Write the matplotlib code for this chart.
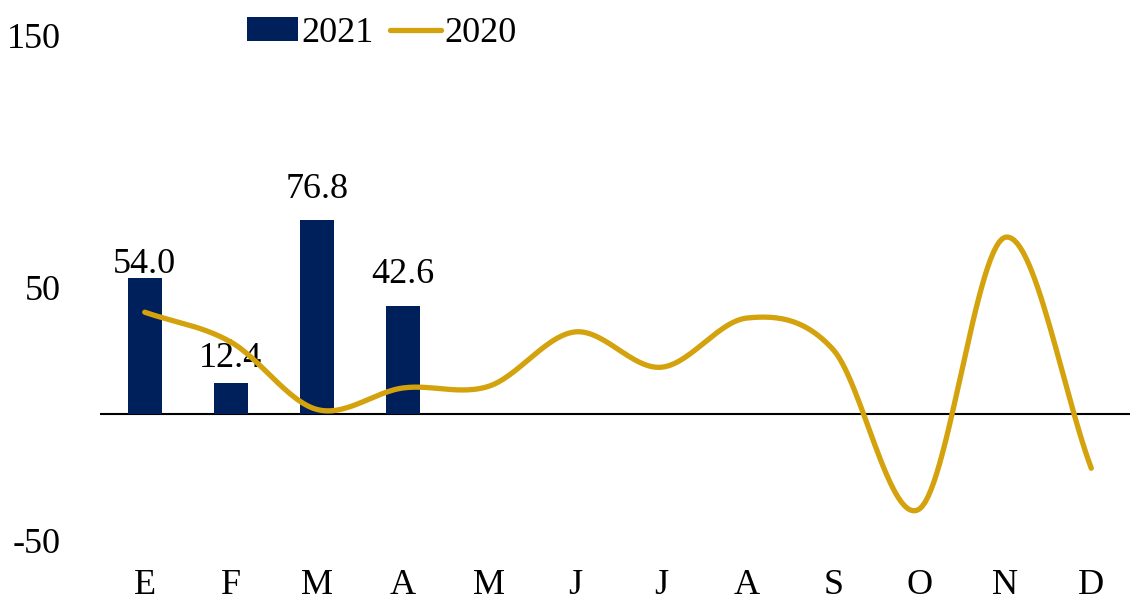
import numpy as np
import matplotlib.pyplot as plt

# data
months = ['E', 'F', 'M', 'A', 'M', 'J', 'J', 'A', 'S', 'O', 'N', 'D']
vals_2021 = [54.0, 12.4, 76.8, 42.6]
vals_2020 = [40.3, 28.5, 1.8, 10.3, 11.0, 32.5, 18.5, 38.0, 25.5, -37.7, 70.0, -21.5]

bar_color = '#00205B'
line_color = '#D4A20C'
label_offsets = [3.5, 11, 16, 16.5]  # pt above bar top, as placed in the original

plt.rcParams['font.family'] = ['Liberation Serif', 'DejaVu Serif']


def smooth(xs, ys, n=30):
    # catmull-rom curve through the points (like a smoothed office line)
    xs = np.asarray(xs, float)
    ys = np.asarray(ys, float)
    px = np.concatenate([[2 * xs[0] - xs[1]], xs, [2 * xs[-1] - xs[-2]]])
    py = np.concatenate([[2 * ys[0] - ys[1]], ys, [2 * ys[-1] - ys[-2]]])
    outx, outy = [], []
    t = np.linspace(0, 1, n)
    for i in range(1, len(px) - 2):
        for p, out in ((px, outx), (py, outy)):
            p0, p1, p2, p3 = p[i - 1], p[i], p[i + 1], p[i + 2]
            out.extend(0.5 * ((2 * p1) + (-p0 + p2) * t
                              + (2 * p0 - 5 * p1 + 4 * p2 - p3) * t ** 2
                              + (-p0 + 3 * p1 - 3 * p2 + p3) * t ** 3))
    return np.array(outx), np.array(outy)


fig = plt.figure(figsize=(11.3, 6.07), dpi=100)
ax = fig.add_axes([0.0885, 0.110, 0.9115, 0.832])

x = np.arange(len(months))
bars = ax.bar(x[:len(vals_2021)], vals_2021, width=0.39, color=bar_color, label='2021', zorder=2)
for b, v, off in zip(bars, vals_2021, label_offsets):
    ax.annotate('%.1f' % v, (b.get_x() + b.get_width() / 2, v), xytext=(0, off),
                textcoords='offset points', ha='center', va='baseline', fontsize=26)

sx, sy = smooth(x, vals_2020)
line, = ax.plot(sx, sy, color=line_color, lw=3.8, solid_capstyle='round', label='2020', zorder=3)

ax.axhline(0, color='black', lw=1.5, zorder=1)

ax.set_xlim(-0.52, 11.45)
ax.set_ylim(-50, 150)
ax.set_yticks([-50, 50, 150])
ax.set_yticklabels(['-50', '50', '150'])
ax.set_xticks(x)
ax.set_xticklabels(months)
ax.tick_params(axis='both', length=0, labelsize=26)
ax.tick_params(axis='y', pad=28)
ax.tick_params(axis='x', pad=21)
for s in ax.spines.values():
    s.set_visible(False)

fig.legend([bars, line], ['2021', '2020'], loc='center', bbox_to_anchor=(0.338, 0.945),
           ncol=2, frameon=False, fontsize=26, handlelength=1.4, handletextpad=0.1,
           columnspacing=0.45, handleheight=0.65)

plt.savefig('out.png', dpi=100)
